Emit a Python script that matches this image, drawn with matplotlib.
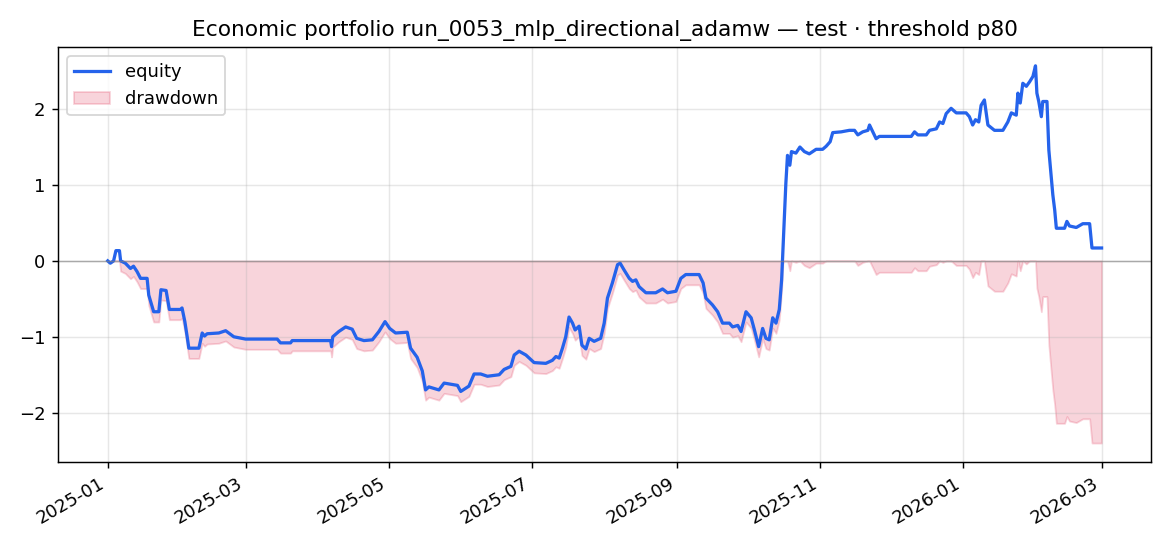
import numpy as np
import pandas as pd
import matplotlib
matplotlib.use("Agg")
import matplotlib.pyplot as plt
import matplotlib.dates as mdates

START = pd.Timestamp("2025-01-01")

# day offsets from START and cumulative equity
days = [
    0, 1.1, 2.5, 3.5, 5.0, 5.5, 7.5, 9.7, 11, 12.5, 14, 16.8, 17.5, 19.6, 21.8,
    22.7, 24.9, 26.3, 31, 31.7, 32.9, 33.9, 34.6, 38.9, 40.3, 41.3, 42.4, 47.4,
    50.3, 53.8, 58.8, 72.3, 73.7, 78, 78.7, 95.1, 95.5, 96, 98.6, 101.5, 104.3,
    106.2, 109.3, 112.9, 115.7, 118.3, 120.3, 122.8, 127.8, 129.2, 132, 134.2,
    135.6, 137, 141.3, 143.5, 149.2, 150.6, 154.1, 156.3, 159.1, 162, 167,
    169.1, 172, 173.4, 175.5, 178.4, 181.9, 186.9, 189.7, 191.2, 192.6, 194,
    195.4, 196.8, 198.3, 199.4, 201.1, 202.3, 204, 205.4, 207.5, 210.3, 211.8,
    213.2, 215.3, 217.5, 218.6, 220.3, 222.5, 223.9, 225.3, 226.7, 229.6,
    233.8, 236.7, 238.8, 242.4, 244.5, 246.6, 252.3, 254, 255.2, 258, 260.2,
    262.3, 265.2, 266.6, 268.8, 270.2, 272.3, 274.5, 275.9, 277.7, 279.4,
    280.8, 282.2, 283.7, 285.1, 286.5, 287.5, 288, 288.6, 289.3, 290, 291,
    291.7, 293.6, 295.3, 297.2, 299.3, 302.2, 305, 306.5, 308.2, 309.3, 312.9,
    316.4, 318.6, 320, 322.1, 324.3, 325, 326.4, 327.8, 329.2, 342.8, 344.2,
    345.6, 349.2, 350.6, 353.5, 354.9, 356.3, 357.7, 359.8, 362, 366.2, 367.6,
    369, 370.2, 371.6, 372.6, 374, 375.5, 378.3, 381.9, 384, 385.5, 387.6,
    388.3, 389.3, 390.4, 391.9, 393.3, 394.7, 395.8, 396.4, 397.2, 398.3,
    398.9, 400.7, 401.5, 402.5, 403.2, 404, 404.7, 408.2, 409.2, 410.3, 413.2,
    416, 418.9, 419.9, 424,
]
equity = [
    0.0, -0.03, 0.0, 0.135, 0.135, 0.0, -0.03, -0.10, -0.07, -0.14, -0.23,
    -0.23, -0.45, -0.67, -0.67, -0.38, -0.39, -0.64, -0.64, -0.62, -0.80, -1.0,
    -1.15, -1.15, -0.95, -0.99, -0.96, -0.95, -0.92, -1.0, -1.03, -1.03, -1.08,
    -1.08, -1.05, -1.05, -1.13, -1.0, -0.93, -0.87, -0.90, -1.02, -1.05, -1.04,
    -0.93, -0.80, -0.89, -0.95, -0.94, -1.15, -1.27, -1.45, -1.70, -1.66,
    -1.70, -1.61, -1.64, -1.72, -1.65, -1.49, -1.49, -1.52, -1.50, -1.43,
    -1.39, -1.24, -1.19, -1.24, -1.34, -1.35, -1.31, -1.26, -1.28, -1.15,
    -1.0, -0.74, -0.82, -0.91, -0.86, -1.11, -1.16, -1.02, -1.06, -1.02,
    -0.82, -0.49, -0.29, -0.05, -0.03, -0.12, -0.23, -0.27, -0.25, -0.34,
    -0.42, -0.42, -0.37, -0.42, -0.40, -0.23, -0.18, -0.18, -0.29, -0.49,
    -0.58, -0.67, -0.82, -0.82, -0.87, -0.85, -0.93, -0.67, -0.75, -0.91,
    -1.13, -0.89, -1.02, -1.04, -0.75, -0.82, -0.64, -0.25, 0.10, 0.50, 1.02,
    1.39, 1.26, 1.44, 1.42, 1.50, 1.44, 1.41, 1.47, 1.47, 1.51, 1.57, 1.69,
    1.70, 1.72, 1.72, 1.66, 1.70, 1.72, 1.79, 1.70, 1.61, 1.64, 1.64, 1.70,
    1.66, 1.66, 1.72, 1.74, 1.83, 1.81, 1.94, 2.01, 1.95, 1.95, 1.90, 1.79,
    1.86, 1.83, 2.05, 2.12, 1.79, 1.72, 1.72, 1.83, 1.95, 1.92, 2.21, 2.08,
    2.34, 2.30, 2.36, 2.43, 2.57, 2.21, 2.10, 1.90, 2.10, 2.10, 1.46, 1.11,
    0.87, 0.67, 0.43, 0.43, 0.52, 0.46, 0.44, 0.49, 0.49, 0.17, 0.17,
]

dates = START + pd.to_timedelta(np.array(days), unit="D")
eq = np.array(equity)
drawdown = eq - np.maximum.accumulate(eq)

fig, ax = plt.subplots(figsize=(9.0, 4.2), dpi=130)

dd_h = ax.fill_between(dates, drawdown, 0, color="crimson", alpha=0.18,
                       label="drawdown")
eq_h, = ax.plot(dates, eq, color="#2563eb", lw=1.8, label="equity")
ax.axhline(0, color="grey", lw=0.8, alpha=0.6)

ax.grid(True, alpha=0.3)
ax.xaxis.set_major_locator(mdates.MonthLocator(bymonth=[1, 3, 5, 7, 9, 11]))
ax.xaxis.set_major_formatter(mdates.DateFormatter("%Y-%m"))
ax.set_title("Economic portfolio run_0053_mlp_directional_adamw — test · threshold p80")
ax.legend(handles=[eq_h, dd_h], loc="upper left")
fig.autofmt_xdate()
fig.subplots_adjust(left=0.0496, right=0.984, top=0.914, bottom=0.154)

fig.savefig("out.png", dpi=130)
